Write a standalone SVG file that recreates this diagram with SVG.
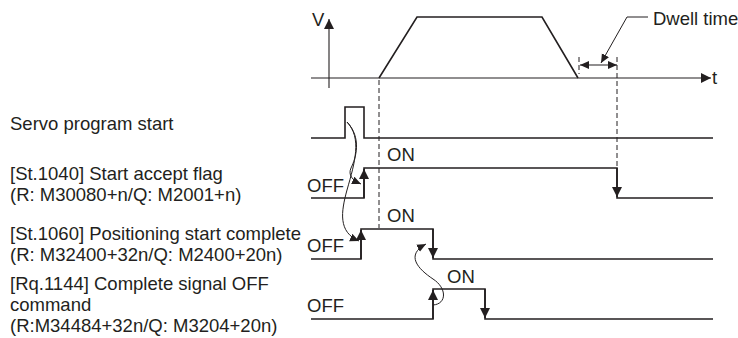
<svg xmlns="http://www.w3.org/2000/svg" width="738" height="338" viewBox="0 0 738 338">
<style>
text{font-family:"Liberation Sans",Arial,sans-serif;font-size:18.5px;fill:#231f20}
.sig{fill:none;stroke:#231f20;stroke-width:1.6}
.ax{fill:none;stroke:#231f20;stroke-width:1.1}
.dash{fill:none;stroke:#231f20;stroke-width:1;stroke-dasharray:5 3}
.cur{fill:none;stroke:#231f20;stroke-width:1}
</style>
<defs>
<marker id="ah" markerUnits="userSpaceOnUse" markerWidth="11" markerHeight="10" refX="10" refY="5" orient="auto" viewBox="0 0 11 10"><path d="M0,0 L10,5 L0,10 z" fill="#231f20"/></marker>
<marker id="ahs" markerUnits="userSpaceOnUse" markerWidth="10" markerHeight="9" refX="9" refY="4" orient="auto" viewBox="0 0 10 9"><path d="M0,0 L9,4 L0,8 z" fill="#231f20"/></marker>
<marker id="ahd" markerUnits="userSpaceOnUse" markerWidth="10" markerHeight="9" refX="9" refY="4" orient="auto-start-reverse" viewBox="0 0 10 9"><path d="M0,0 L9,4 L0,8 z" fill="#231f20"/></marker>
</defs>

<g id="speed-graph">
<path class="ax" d="M329,88 V19" marker-end="url(#ah)"/>
<text x="312" y="26">V</text>
<path class="ax" d="M311,78 H711" marker-end="url(#ah)"/>
<text x="712" y="84">t</text>
<path class="sig" d="M379,78 L417,17 H542 L578,78"/>
</g>

<g id="dwell-time">
<path class="dash" d="M579,57 V74"/>
<path class="ax" d="M580,65 H617" marker-start="url(#ahd)" marker-end="url(#ahd)"/>
<path class="cur" d="M648,17 H627 L601,63" marker-end="url(#ahs)"/>
<text x="653" y="25">Dwell time</text>
</g>

<g id="guides">
<path class="dash" d="M379,80 V228"/>
<path class="dash" d="M617,57 V168"/>
</g>

<g id="servo-start">
<text x="10" y="130">Servo program start</text>
<path class="sig" d="M311,138 H345 V107 H364 V138 H713"/>
</g>

<g id="start-accept">
<text x="10" y="180">[St.1040] Start accept flag</text>
<text x="10" y="201">(R: M30080+n/Q: M2001+n)</text>
<text x="307" y="192">OFF</text>
<text x="387" y="161">ON</text>
<path class="sig" d="M311,198 H364 V168 H617 V198 H713"/>
<path class="sig" d="M364,198 V169" marker-end="url(#ah)"/>
<path class="sig" d="M617,168 V197" marker-end="url(#ah)"/>
</g>

<g id="positioning-complete">
<text x="10" y="240">[St.1060] Positioning start complete</text>
<text x="10" y="261">(R: M32400+32n/Q: M2400+20n)</text>
<text x="307" y="252">OFF</text>
<text x="387" y="222">ON</text>
<path class="sig" d="M311,259 H361 V229 H433 V259 H713"/>
<path class="sig" d="M361,259 V230" marker-end="url(#ah)"/>
<path class="sig" d="M433,229 V258" marker-end="url(#ah)"/>
</g>

<g id="complete-off-command">
<text x="10" y="290">[Rq.1144] Complete signal OFF</text>
<text x="10" y="311">command</text>
<text x="10" y="332">(R:M34484+32n/Q: M3204+20n)</text>
<text x="307" y="312">OFF</text>
<text x="447" y="283">ON</text>
<path class="sig" d="M311,319 H433 V289 H485 V319 H713"/>
<path class="sig" d="M433,319 V290" marker-end="url(#ah)"/>
<path class="sig" d="M485,289 V318" marker-end="url(#ah)"/>
</g>

<g id="connectors">
<path class="cur" d="M347,122 C362,138 356,158 351,168 C348,175 352,180 361,184" marker-end="url(#ahs)"/>
<path class="cur" d="M347,122 C362,138 355,162 347,190 C341,212 338,232 359,241" marker-end="url(#ahs)"/>
<path class="cur" d="M433,305 C447,304 447,288 433,279 C418,269 405,255 426,244" marker-end="url(#ahs)"/>
</g>
</svg>
